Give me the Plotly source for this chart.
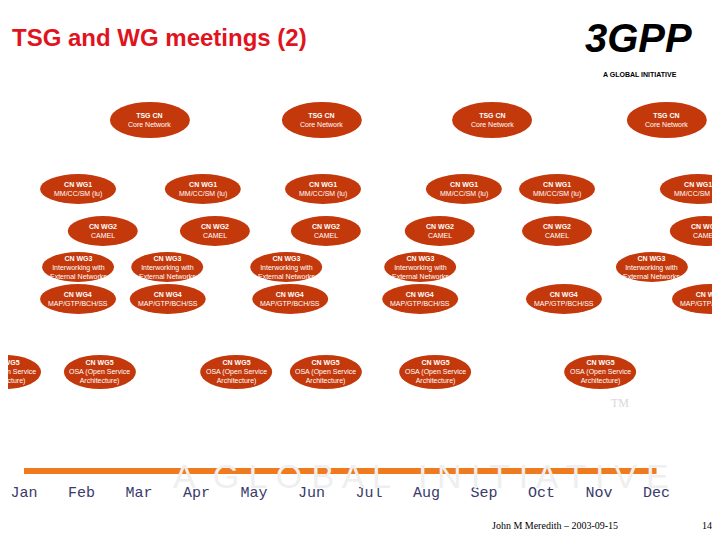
import plotly.graph_objects as go

months = ["Jan", "Feb", "Mar", "Apr", "May", "Jun", "Jul", "Aug", "Sep", "Oct", "Nov", "Dec"]

# meeting positions (month index, 0 = Jan) for each group
groups = ["TSG CN", "CN WG1", "CN WG2", "CN WG3", "CN WG4", "CN WG5"]
subtitles = ["Core Network", "MM/CC/SM (lu)", "CAMEL", "Interworking with<br>External Networks",
             "MAP/GTP/BCH/SS", "OSA (Open Service<br>Architecture)"]
tsg_dates = [2.19, 5.18, 8.14, 11.18]
wg1_dates = [0.94, 3.11, 5.2, 7.65, 9.27, 11.72]
wg2_dates = [1.37, 3.32, 5.25, 7.23, 9.27, 11.84]
wg3_dates = [0.94, 2.49, 4.56, 6.89, 10.92]
wg4_dates = [0.94, 2.5, 4.63, 6.89, 9.39, 11.93]
wg5_dates = [-0.33, 1.32, 3.69, 5.25, 7.15, 10.02]
all_dates = [tsg_dates, wg1_dates, wg2_dates, wg3_dates, wg4_dates, wg5_dates]

row_y = [120, 189, 231, 267, 299, 372]
row_w = [80, 76, 70, 72, 76, 72]
row_h = [36, 30, 30, 30, 30, 34]

PX = 57.5  # pixels per month
OFF = 8    # page body margin
fill = "#c4390c"
W, H = 720 - OFF, 540 - OFF
xmin, xmax = (OFF - 24) / PX, (720 - 24) / PX


def px(x):
    return (x - OFF) / W


def py(y):
    return 1 - (y - OFF) / H


fig = go.Figure()
shapes = []
annotations = []

# faint watermark (drawn first)
annotations.append(dict(xref="paper", yref="y", x=0.58, y=476, showarrow=False,
                        text="A  G L O B A L   I N I T I A T I V E",
                        font=dict(family="Arial", size=34, color="#efefef")))

for g, sub, dates, y, w, h in zip(groups, subtitles, all_dates, row_y, row_w, row_h):
    for d in dates:
        shapes.append(dict(type="circle", xref="x", yref="y",
                           x0=d - w / 2 / PX, x1=d + w / 2 / PX, y0=y - h / 2, y1=y + h / 2,
                           fillcolor=fill, line=dict(width=0), layer="above"))
        lab = dict(x=d, y=y, xref="x", yref="y", showarrow=False,
                   xanchor="center", yanchor="middle",
                   text="<b>" + g + "</b><br>" + sub,
                   font=dict(family="Liberation Sans Narrow, Arial Narrow, sans-serif",
                             size=7, color="white"))
        if d < xmin or d > xmax:
            lab["xref"] = "paper"
            lab["x"] = (d - xmin) / (xmax - xmin)
        annotations.append(lab)

# timeline bar
shapes.append(dict(type="line", xref="x", yref="y", x0=0, x1=11, y0=471, y1=471,
                   line=dict(color="#f07a1e", width=6)))

fig.add_trace(go.Scatter(x=list(range(12)), y=[493] * 12, mode="text", text=months,
                         textfont=dict(family="Courier New, Liberation Mono, monospace",
                                       size=15, color="#3a3a6a"),
                         hoverinfo="skip", showlegend=False))


def note(x, y, text, size, color, family="Arial", xanchor="center"):
    annotations.append(dict(xref="paper", yref="paper", x=px(x), y=py(y), xanchor=xanchor,
                            yanchor="middle", showarrow=False, text=text,
                            font=dict(family=family, size=size, color=color)))


note(10, 38, "<b>TSG and WG meetings (2)</b>", 24, "#e0141e", xanchor="left")
note(638, 38, "<b><i>3GPP</i></b>", 40, "black")
note(640, 75, "<b>A GLOBAL INITIATIVE</b>", 7, "black")
note(555, 525, "John M Meredith – 2003-09-15", 10, "black", "Liberation Serif, Times New Roman")
note(707, 525, "14", 10, "black", "Liberation Serif, Times New Roman")
note(620, 403, "TM", 12, "#d8d8d8", "Liberation Serif, Times New Roman")

fig.update_layout(
    width=W, height=H, margin=dict(l=0, r=0, t=0, b=0),
    plot_bgcolor="white", paper_bgcolor="white",
    xaxis=dict(range=[xmin, xmax], visible=False, fixedrange=True),
    yaxis=dict(range=[540, OFF], visible=False, fixedrange=True),
    shapes=shapes, annotations=annotations,
)
fig.write_html("out.html")
